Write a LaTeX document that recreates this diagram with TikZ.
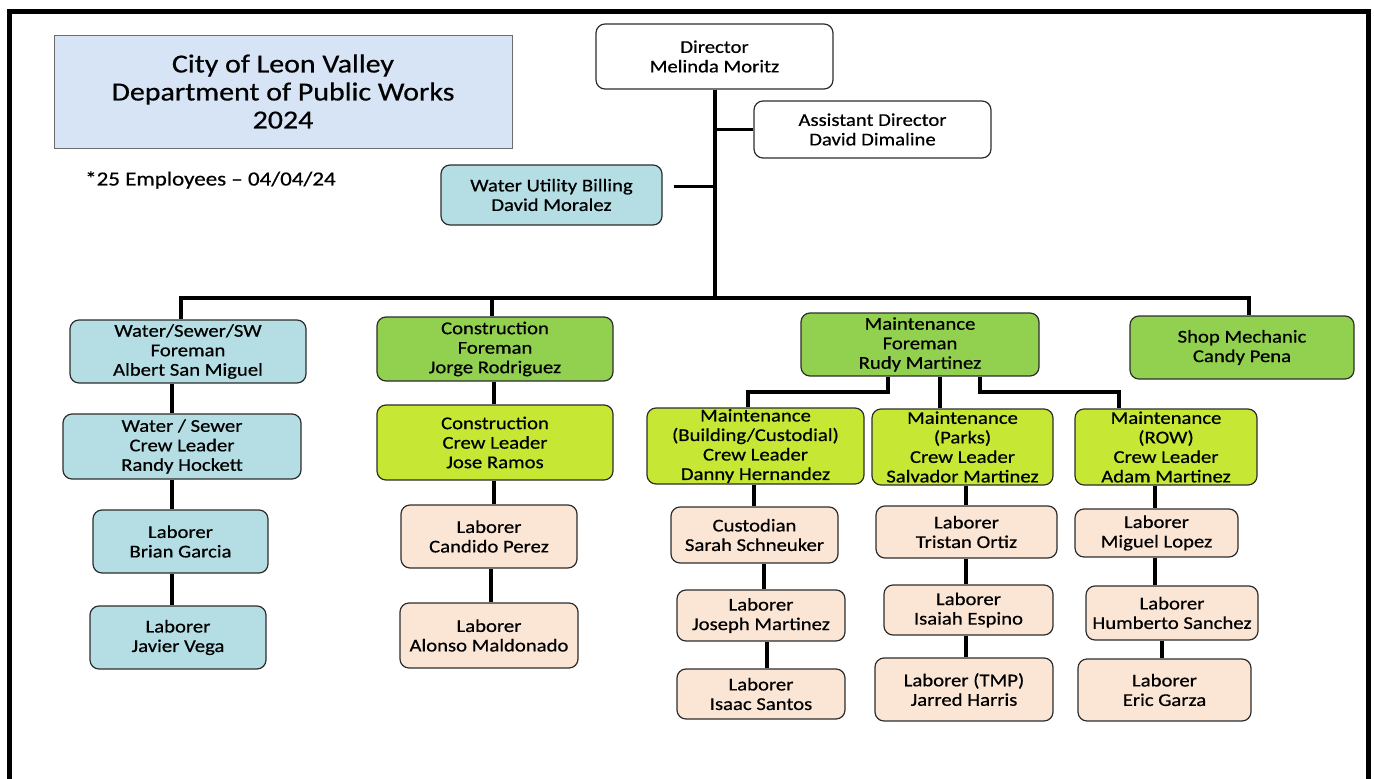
\documentclass[tikz,border=0pt]{standalone}
\usepackage{fontspec}
\setmainfont{Carlito}[FakeStretch=1.15,FakeBold=0.6]
\begin{document}
\definecolor{cblue}{RGB}{180,222,228}
\definecolor{cgreen}{RGB}{146,208,80}
\definecolor{cyell}{RGB}{198,232,52}
\definecolor{cpeach}{RGB}{251,230,214}
\definecolor{ctitle}{RGB}{214,228,245}
\definecolor{cedge}{RGB}{45,45,45}
\begin{tikzpicture}[x=1pt,y=-1pt,
  box/.style={draw=cedge,line width=1.2pt,rounded corners=9pt,inner sep=0pt,align=center,
    font=\fontsize{18}{19.5}\selectfont},
  wht/.style={fill=white},
  blu/.style={fill=cblue},
  grn/.style={fill=cgreen},
  ylw/.style={fill=cyell},
  pch/.style={fill=cpeach},
  conn/.style={line width=4pt,black},
  branch/.style={line width=3pt,black}]
\newcommand\bx[7]{\node[box,#6,minimum width={(#4)-(#2)},minimum height={(#5)-(#3)}] (#1) at ({((#2)+(#4))/2},{((#3)+(#5))/2}) {#7};}
\useasboundingbox (0,0) rectangle (1374,779);
\begin{scope}
\clip (0,0) rectangle (1374,779);
% outer frame
\draw[line width=5pt] (9.5,800) -- (9.5,11.5) -- (1368.5,11.5) -- (1368.5,800);
\end{scope}
% title box
\node[draw=cedge!70,line width=1pt,fill=ctitle,minimum width=458,minimum height=113,inner sep=0pt,align=center,
  font=\fontsize{26}{28}\selectfont] (title) at (283,91.5) {City of Leon Valley\\Department of Public Works\\2024};
\node[anchor=west,inner sep=0pt,font=\fontsize{20}{22}\selectfont] (emp) at (85,180) {*25 Employees -- 04/04/24};
% top
\bx{dir}{596}{24}{833}{89}{wht}{Director\\Melinda Moritz}
\bx{asst}{754}{101}{991}{158}{wht}{Assistant Director\\David Dimaline}
\bx{wub}{441}{165}{662}{225}{blu}{Water Utility Billing\\David Moralez}
% column 1
\bx{wsf}{70}{320}{306}{383}{blu}{Water/Sewer/SW\\Foreman\\Albert San Miguel}
\bx{wscl}{63}{414}{301}{479}{blu}{Water / Sewer\\Crew Leader\\Randy Hockett}
\bx{bg}{93}{510}{268}{573}{blu}{Laborer\\Brian Garcia}
\bx{jv}{90}{606}{266}{669}{blu}{Laborer\\Javier Vega}
% column 2
\bx{cf}{377}{317}{613}{381}{grn}{Construction\\Foreman\\Jorge Rodriguez}
\bx{ccl}{377}{405}{613}{480}{ylw}{Construction\\Crew Leader\\Jose Ramos}
\bx{cp}{401}{505}{577}{568}{pch}{Laborer\\Candido Perez}
\bx{am}{400}{603}{578}{668}{pch}{Laborer\\Alonso Maldonado}
% maintenance
\bx{mf}{801}{313}{1039}{376}{grn}{Maintenance\\Foreman\\Rudy Martinez}
\bx{shop}{1130}{316}{1354}{379}{grn}{Shop Mechanic\\Candy Pena}
\bx{mb}{647}{408}{864}{484}{ylw}{Maintenance\\(Building/Custodial)\\Crew Leader\\Danny Hernandez}
\bx{mp}{872}{409}{1053}{485}{ylw}{Maintenance\\(Parks)\\Crew Leader\\Salvador Martinez}
\bx{mr}{1075}{409}{1257}{485}{ylw}{Maintenance\\(ROW)\\Crew Leader\\Adam Martinez}
\bx{ss}{671}{507}{838}{563}{pch}{Custodian\\Sarah Schneuker}
\bx{jm}{677}{590}{845}{641}{pch}{Laborer\\Joseph Martinez}
\bx{is}{677}{669}{845}{719}{pch}{Laborer\\Isaac Santos}
\bx{to}{876}{506}{1057}{558}{pch}{Laborer\\Tristan Ortiz}
\bx{ie}{884}{585}{1053}{635}{pch}{Laborer\\Isaiah Espino}
\bx{jh}{875}{658}{1053}{721}{pch}{Laborer (TMP)\\Jarred Harris}
\bx{ml}{1075}{509}{1238}{557}{pch}{Laborer\\Miguel Lopez}
\bx{hs}{1086}{586}{1258}{640}{pch}{Laborer\\Humberto Sanchez}
\bx{eg}{1078}{659}{1251}{721}{pch}{Laborer\\Eric Garza}
% bus
\coordinate (busC) at (715,298);
\coordinate (busL) at (181,298);
\coordinate (busM) at (492,298);
\coordinate (busR) at (1249,298);
\coordinate (wubR) at ([shift={(11,-9)}]wub.east);
\draw[conn] (dir.south -| busC) -- (busC);
\draw[conn] (busL |- wsf.north) -- (busL) -- (busR) -- (busR |- shop.north);
\draw[conn] (busM) -- (busM |- cf.north);
\draw[branch] (busC |- asst.west) -- (asst.west);
\draw[branch] (wubR) -- (busC |- wubR);
% column 1 links
\draw[conn] (172,0 |- wsf.south) -- (172,0 |- wscl.north);
\draw[conn] (172,0 |- wscl.south) -- (172,0 |- bg.north);
\draw[conn] (172,0 |- bg.south) -- (172,0 |- jv.north);
% column 2 links
\draw[conn] (494,0 |- cf.south) -- (494,0 |- ccl.north);
\draw[conn] (494,0 |- ccl.south) -- (494,0 |- cp.north);
\draw[conn] (491,0 |- cp.south) -- (491,0 |- am.north);
% maintenance fork
\draw[conn] (888,0 |- mf.south) |- (748,392) -- (748,0 |- mb.north);
\draw[conn] (940,0 |- mf.south) -- (940,0 |- mp.north);
\draw[conn] (980,0 |- mf.south) |- (1119,392) -- (1119,0 |- mr.north);
% maintenance columns
\draw[conn] (754,0 |- mb.south) -- (754,0 |- ss.north);
\draw[conn] (764,0 |- ss.south) -- (764,0 |- jm.north);
\draw[conn] (767,0 |- jm.south) -- (767,0 |- is.north);
\draw[conn] (966,0 |- mp.south) -- (966,0 |- to.north);
\draw[conn] (966,0 |- to.south) -- (966,0 |- ie.north);
\draw[conn] (966,0 |- ie.south) -- (966,0 |- jh.north);
\draw[conn] (1155,0 |- mr.south) -- (1155,0 |- ml.north);
\draw[conn] (1155,0 |- ml.south) -- (1155,0 |- hs.north);
\draw[conn] (1162,0 |- hs.south) -- (1162,0 |- eg.north);
\end{tikzpicture}
\end{document}
